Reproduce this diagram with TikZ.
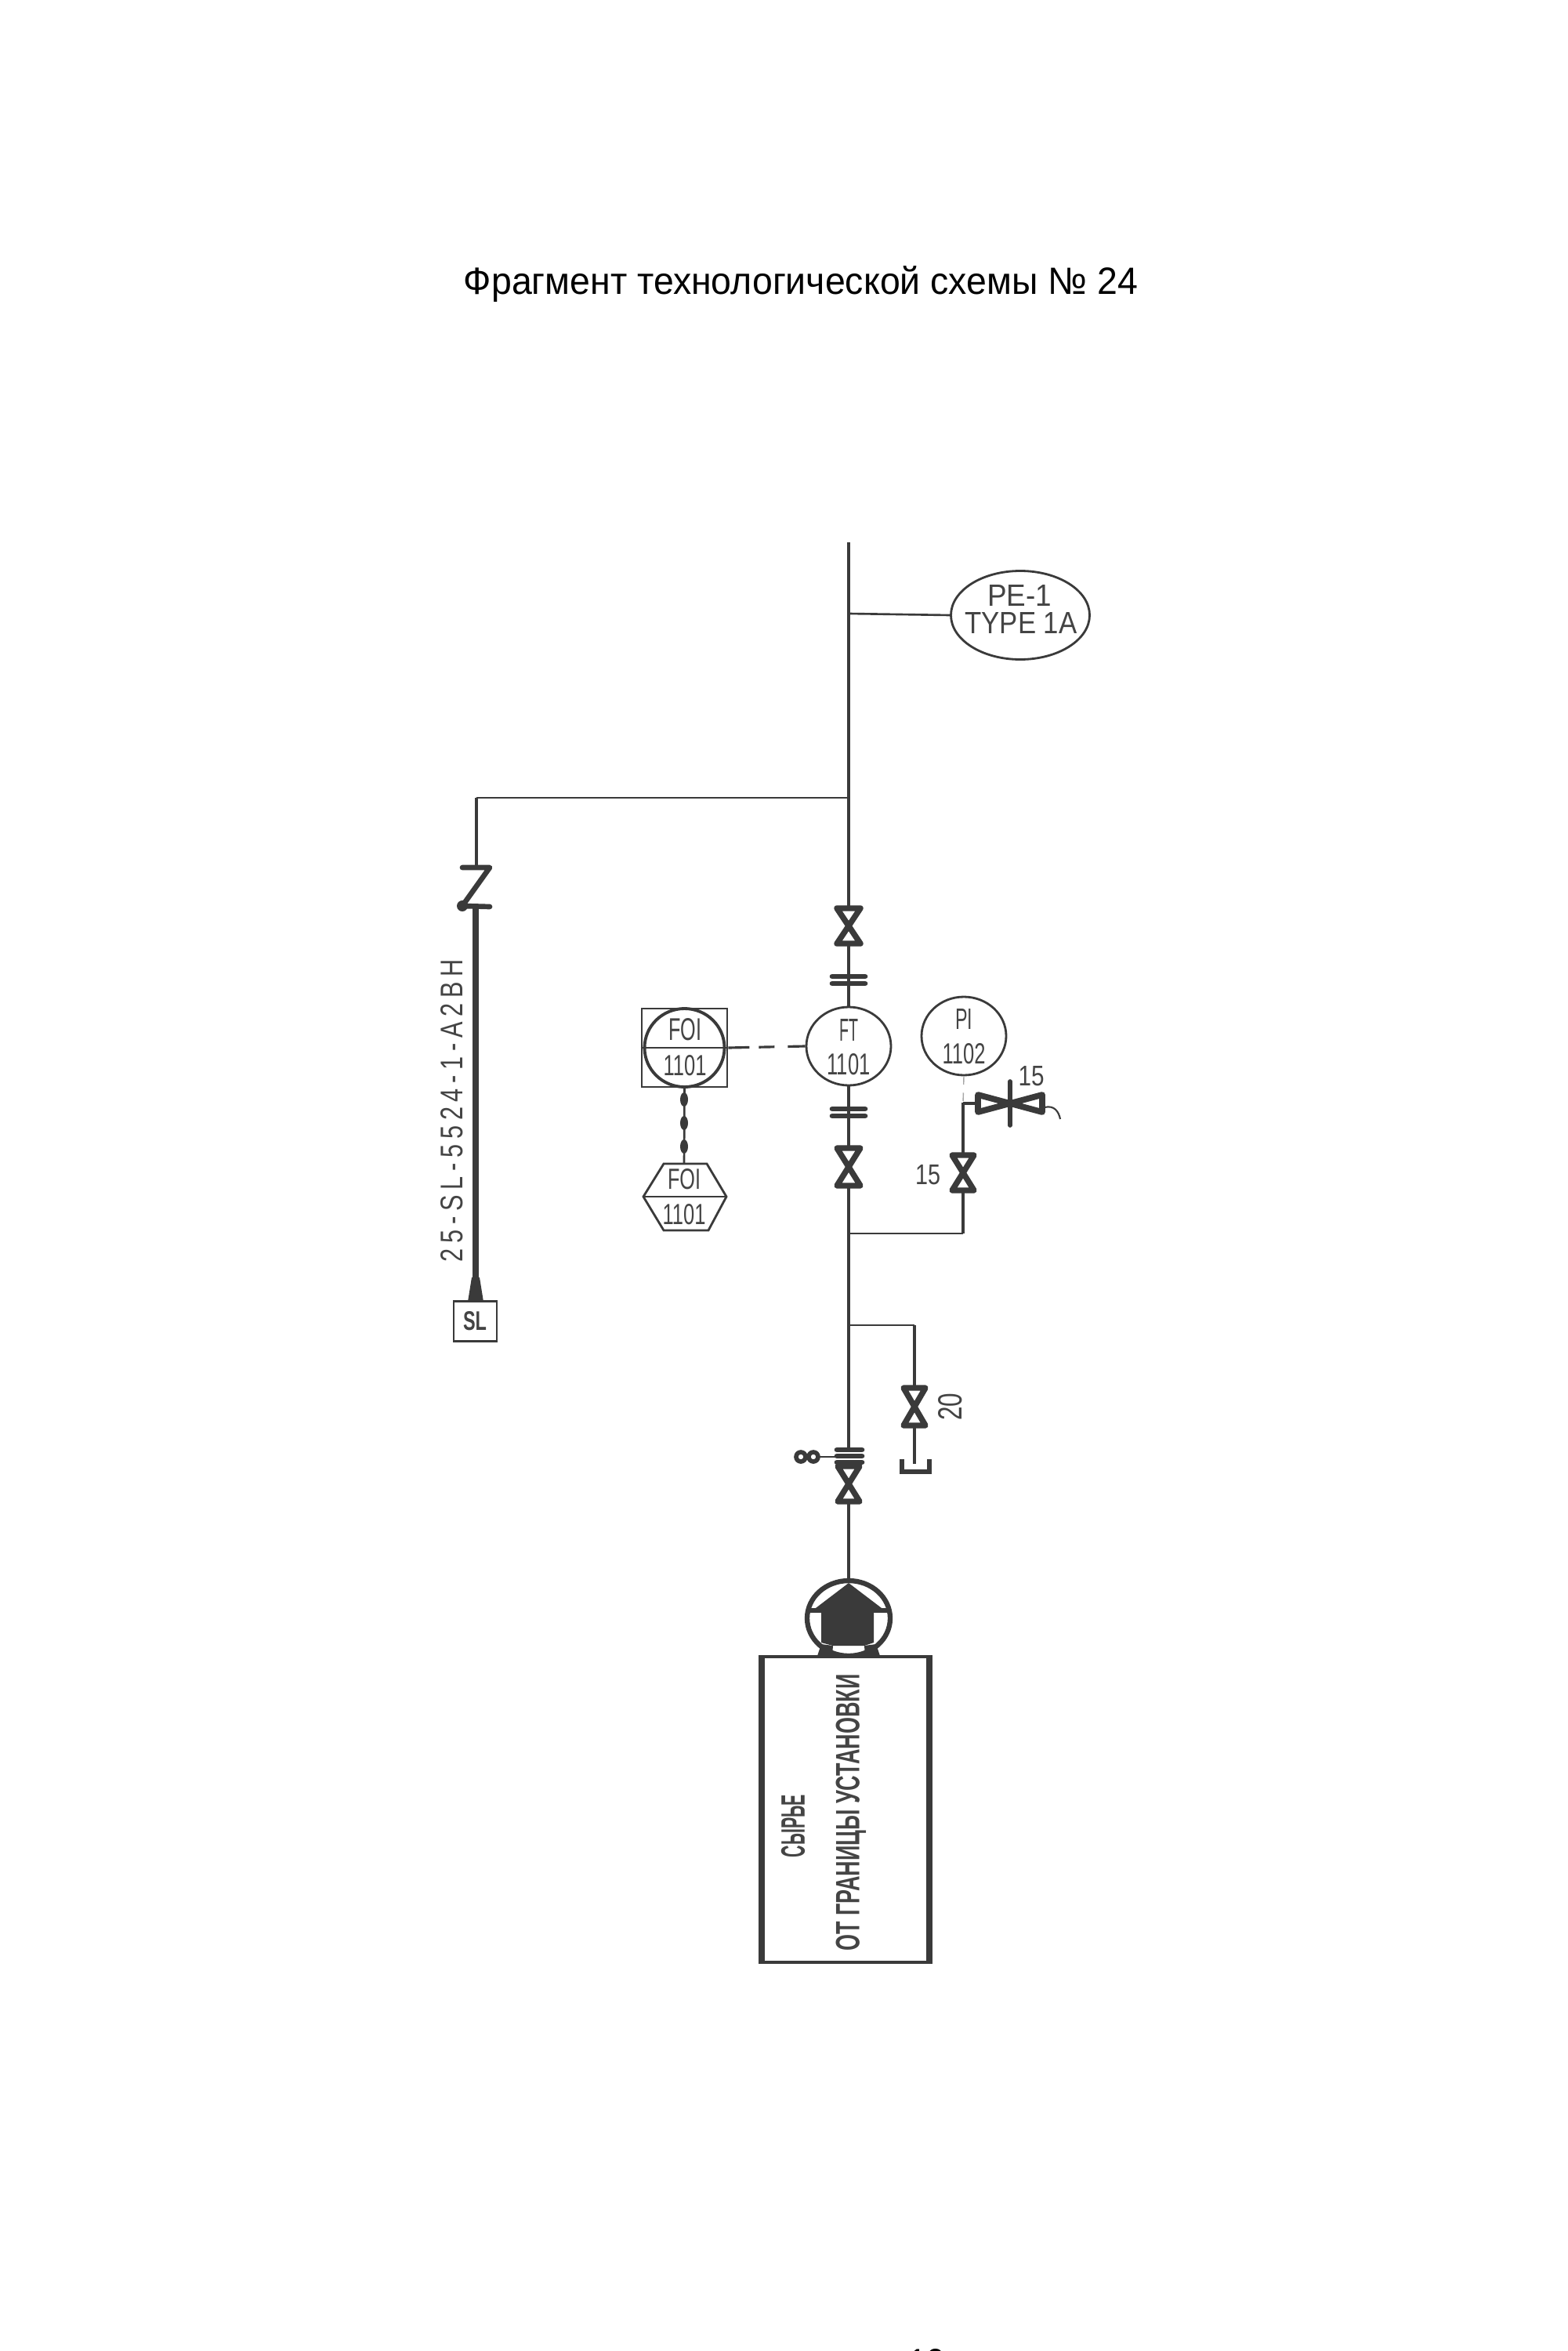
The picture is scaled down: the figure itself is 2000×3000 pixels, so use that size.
\documentclass[tikz,border=0pt]{standalone}
\usepackage{fontspec}
\usepackage{graphicx}
\usetikzlibrary{shapes.geometric}
\setmainfont{Liberation Sans}
\definecolor{ink}{HTML}{3A3A3A}
\definecolor{txt}{HTML}{444444}
\newlength{\pxunit}
\setlength{\pxunit}{0.1mm}
\newcommand{\fitbox}[3]{\resizebox{#1\pxunit}{#2\pxunit}{#3}}
\tikzset{
  x=0.1mm,y=-0.1mm,
  pipe/.style={draw=ink,line width=1.4pt},
  thin pipe/.style={draw=ink,line width=0.75pt},
  heavy/.style={draw=ink,line width=2.4pt},
  inst/.style={draw=ink,line width=0.8pt,fill=white},
  lbl/.style={inner sep=0pt,outer sep=0pt,text=txt,anchor=center},
  valvetri/.style={draw=ink,line width=2.1pt,line join=round,fill=white},
  ventri/.style={draw=ink,line width=2.2pt,line join=round,fill=white},
  flangeplate/.style={draw=ink,line width=1.9pt,line cap=round},
}
\newcommand{\vvalve}[4]{% x, ytop, ybottom, half width
  \path[valvetri] (#1-#4+4,#2+4) -- (#1+#4-4,#2+4) -- (#1,{(#2+#3)/2}) -- cycle;
  \path[valvetri] (#1-#4+4,#3-4) -- (#1+#4-4,#3-4) -- (#1,{(#2+#3)/2}) -- cycle;
}
\begin{document}
\begin{tikzpicture}
\useasboundingbox (0,0) rectangle (2000,3000);
\fill[white] (0,0) rectangle (2000,3000);

% title
\node[inner sep=0pt,anchor=base,text=black] (title) at (1022,376) {\fitbox{860}{36}{Фрагмент технологической схемы № 24}};

% junction coordinates
\coordinate (top) at (1083,692);
\coordinate (jPE) at (1083,783);
\coordinate (jL) at (1083,1018);
\coordinate (cornerL) at (608,1018);
\coordinate (zTop) at (608,1107);
\coordinate (jPI) at (1083,1574);
\coordinate (cornerPI) at (1229,1574);
\coordinate (jDr) at (1083,1691);
\coordinate (cornerDr) at (1167,1691);

% nodes
\node[ellipse,inst,minimum width=17.7mm,minimum height=11.3mm,inner sep=0pt] (PE) at (1302,785) {};
\node[ellipse,inst,inner sep=0pt,minimum width=10.8mm,minimum height=10mm] (FT) at (1083,1335) {};
\node[ellipse,inst,inner sep=0pt,minimum width=10.8mm,minimum height=10mm] (PI) at (1230,1322) {};
\node[rectangle,inst,inner sep=0pt,minimum width=10.9mm,minimum height=10mm] (FOIb) at (873.5,1337) {};

% pipes
\draw[pipe] (top) -- (1083,1157);
\draw[thin pipe] (jPE) -- (PE.west);
\draw[thin pipe] (jL) -- (cornerL);
\draw[pipe] (cornerL) -- (zTop);
\draw[pipe] (1083,1207) -- (FT.north);
\draw[pipe] (FT.south) -- (1083,1463);
\draw[pipe] (1083,1515) -- (1083,1847);
\draw[pipe] (1083,1918) -- (1083,2018);
\draw[thin pipe] (jPI) -- (cornerPI);
\draw[pipe] (cornerPI) -- (1229,1521);
\draw[pipe] (1229,1472) -- (1229,1407);
\draw[draw=ink!45,line width=0.4pt,dashed] (PI.south) -- (1229,1407);
\draw[thin pipe] (jDr) -- (cornerDr);
\draw[pipe] (cornerDr) -- (1167,1769);
\draw[pipe] (1167,1821) -- (1167,1868);

% check valve Z and heavy line to SL
\draw[draw=ink,line width=1.9pt,line join=round,line cap=round] (590,1107) -- (625,1107) -- (590,1156) -- (625,1157);
\fill[ink] (590,1156) circle (7);
\node[rectangle,inst,inner sep=0pt,minimum width=5.5mm,minimum height=5.1mm] (SLb) at (606.5,1686) {};
\draw[heavy] (607,1158) -- (607,1650);
\path[fill=ink] (602,1630) -- (612,1630) -- (617,1661) -- (597,1661) -- cycle;
\node[lbl,rotate=90] (lineno) at (577,1417) {\fitbox{386}{28}{\addfontfeature{LetterSpace=22}25-SL-5524-1-A2BH}};
\node[lbl] (SLt) at (606,1686) {\fitbox{30}{24}{\bfseries SL}};

% valves
\vvalve{1083}{1155}{1208}{19}
\vvalve{1083}{1461}{1517}{19}
\vvalve{1229}{1470}{1523}{18}
\vvalve{1167}{1767}{1823}{18}
\vvalve{1083}{1867}{1920}{18}

% flanges
\draw[flangeplate] (1062,1246) -- (1104,1246) (1062,1255) -- (1104,1255);
\draw[pipe] (1083,1246) -- (1083,1255);
\draw[flangeplate] (1062,1415) -- (1104,1415) (1062,1424) -- (1104,1424);
\draw[pipe] (1083,1415) -- (1083,1424);
\draw[flangeplate] (1068,1850) -- (1100,1850) (1068,1858) -- (1100,1858) (1068,1866) -- (1100,1866);
% spectacle blind
\draw[thin pipe] (1046,1859) -- (1067,1859);
\draw[draw=ink,line width=1.6pt,fill=white] (1022,1859) circle (6) (1038,1859) circle (6);

% drain cap
\draw[draw=ink,line width=1.7pt,line join=miter] (1151,1862) -- (1151,1878) -- (1186,1878) -- (1186,1862);

% horizontal vent valve
\path[ventri] (1248,1397) -- (1248,1419) -- (1289,1408) -- cycle;
\path[ventri] (1330,1397) -- (1330,1419) -- (1289,1408) -- cycle;
\draw[draw=ink,line width=1.6pt,line cap=round] (1289,1380) -- (1289,1436);
\draw[pipe] (1229,1408) -- (1245,1408);
\draw[draw=ink,line width=0.6pt] (1333,1413) .. controls (1345,1410) and (1351,1418) .. (1353,1428);

% FOI box contents
\draw[draw=ink,line width=1.1pt,fill=white] (873.5,1337) ellipse (51 and 50);
\draw[thin pipe] (FOIb.west) -- (FOIb.east);
\draw[draw=ink,line width=0.9pt,dash pattern=on 2.7mm off 1.2mm on 2mm off 1.7mm on 2.6mm] (FOIb.east) -- (FT.west);

% FOI to hexagon
\path[inst] (821,1527) -- (847,1485) -- (902,1485) -- (927,1527) -- (904,1570) -- (847,1570) -- cycle;
\draw[thin pipe] (821,1527) -- (927,1527);
\coordinate (hexTop) at (873,1485);
\draw[thin pipe] (FOIb.south) -- (hexTop);
\foreach \yy in {1403,1433,1463} \fill[ink] (873,\yy) ellipse (5 and 9);

% pump
\draw[draw=ink,line width=1.8pt,fill=white] (1083,2065) ellipse (53 and 48);
\path[fill=ink] (1083,2020) -- (1129,2055) -- (1115,2055) -- (1115,2096) -- (1103,2100) -- (1063,2100) -- (1048,2096) -- (1048,2055) -- (1037,2055) -- cycle;
\draw[draw=ink,line width=1.5pt] (1029,2055) -- (1137,2055);
\path[fill=ink] (1048,2098) -- (1063,2100) -- (1062,2113) -- (1043,2113) -- cycle;
\path[fill=ink] (1118,2098) -- (1103,2100) -- (1104,2113) -- (1123,2113) -- cycle;

% source box
\node[rectangle,draw=ink,line width=1.2pt,fill=white,inner sep=0pt,minimum width=21mm,minimum height=39mm] (src) at (1079,2309) {};
\draw[draw=ink,line width=2.1pt] (src.north west) -- (src.south west) (src.north east) -- (src.south east);
\node[lbl,rotate=90] (srcA) at (1012,2330) {\fitbox{80}{30}{\bfseries СЫРЬЕ}};
\node[lbl,rotate=90] (srcB) at (1086,2313) {\fitbox{353}{30}{\bfseries ОТ ГРАНИЦЫ УСТАНОВКИ}};

% instrument labels
\node[lbl] (tPEa) at (1301,760) {\fitbox{82}{27}{PE-1}};
\node[lbl] (tPEb) at (1303,795) {\fitbox{143}{27}{TYPE 1A}};
\node[lbl] (tFTa) at (1083,1314) {\fitbox{24}{28}{FT}};
\node[lbl] (tFTb) at (1083,1358) {\fitbox{55}{27}{1101}};
\node[lbl] (tPIa) at (1230,1300) {\fitbox{22}{26}{PI}};
\node[lbl] (tPIb) at (1230,1345) {\fitbox{55}{26}{1102}};
\node[lbl] (tFOa) at (874,1314) {\fitbox{42}{28}{FOI}};
\node[lbl] (tFOb) at (874,1360) {\fitbox{55}{26}{1101}};
\node[lbl] (tHEa) at (873,1505) {\fitbox{42}{26}{FOI}};
\node[lbl] (tHEb) at (873,1550) {\fitbox{55}{26}{1101}};
\node[lbl] (t15a) at (1316,1373) {\fitbox{33}{25}{15}};
\node[lbl] (t15b) at (1184,1499) {\fitbox{32}{25}{15}};
\node[lbl,rotate=90] (t20) at (1213,1795) {\fitbox{35}{30}{20}};

% page number, cut by the page edge
\node[inner sep=0pt,anchor=north,text=black] (page) at (1182,2997) {\fitbox{46}{34}{12}};
\end{tikzpicture}
\end{document}
